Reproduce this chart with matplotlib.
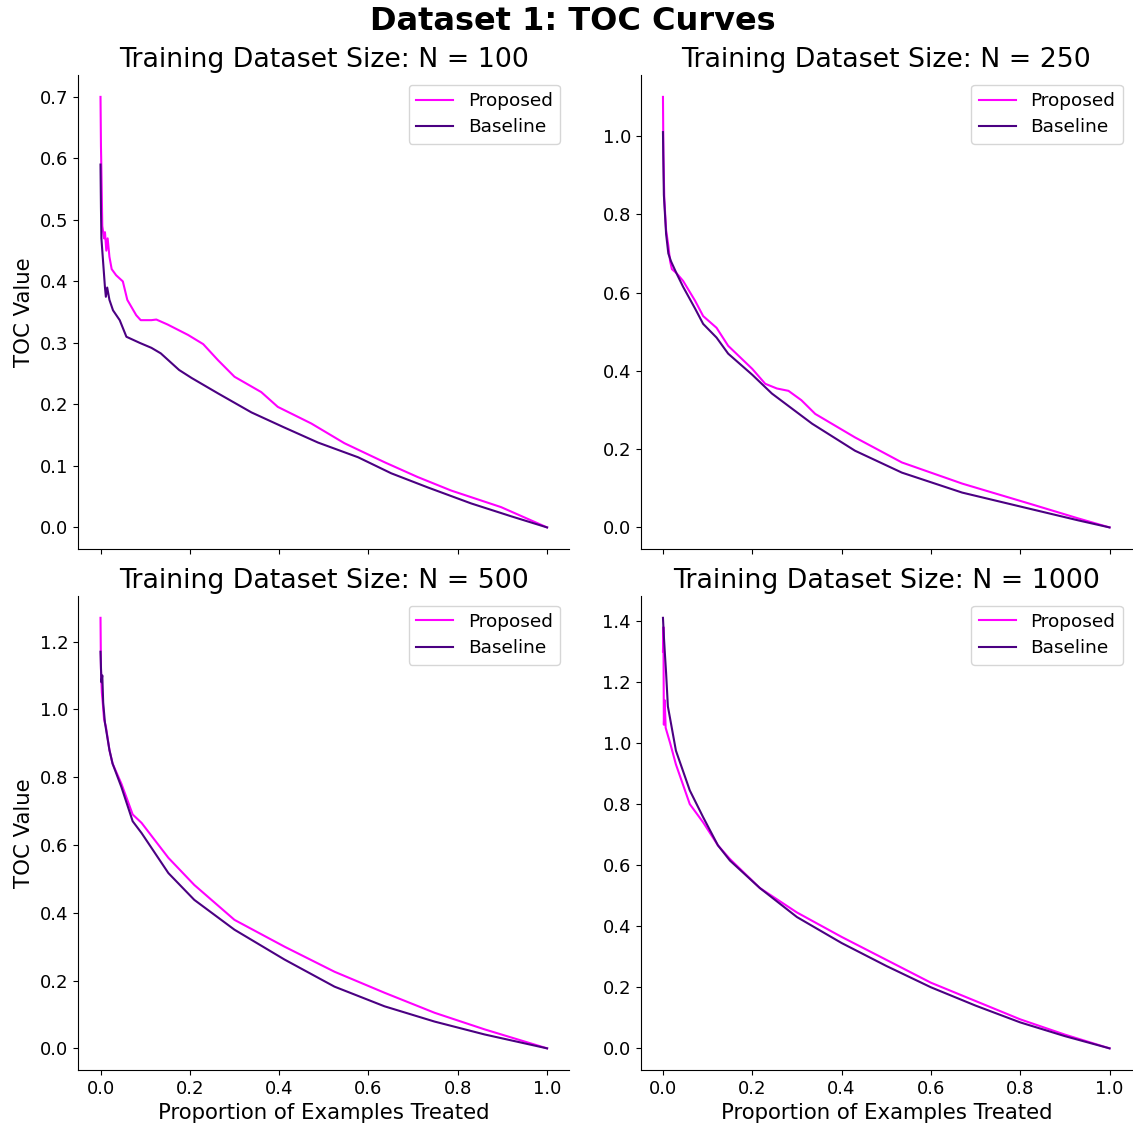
import matplotlib
matplotlib.use("Agg")
import matplotlib.pyplot as plt

# Values (x = proportion treated)
x_p100 = [0, 0.001, 0.002, 0.004, 0.008, 0.01, 0.013, 0.016, 0.02, 0.025, 0.035, 0.05, 0.06,
          0.08, 0.09, 0.114, 0.125, 0.15, 0.196, 0.23, 0.263, 0.30, 0.36, 0.397, 0.472, 0.546,
          0.636, 0.71, 0.785, 0.897, 1.0]
y_p100 = [0.70, 0.62, 0.58, 0.49, 0.47, 0.48, 0.45, 0.47, 0.44, 0.42, 0.41, 0.40, 0.37,
          0.345, 0.337, 0.337, 0.338, 0.33, 0.313, 0.298, 0.272, 0.245, 0.22, 0.196, 0.169, 0.137,
          0.106, 0.082, 0.060, 0.033, 0.0]
x_b100 = [0, 0.001, 0.002, 0.004, 0.006, 0.01, 0.012, 0.015, 0.02, 0.028, 0.043, 0.058, 0.088,
          0.114, 0.135, 0.176, 0.204, 0.263, 0.338, 0.41, 0.487, 0.577, 0.651, 0.733, 0.83, 0.92, 1.0]
y_b100 = [0.59, 0.52, 0.47, 0.45, 0.43, 0.39, 0.375, 0.39, 0.37, 0.353, 0.337, 0.31, 0.30,
          0.292, 0.283, 0.256, 0.243, 0.218, 0.187, 0.163, 0.138, 0.114, 0.088, 0.065, 0.039, 0.018, 0.0]

x_p250 = [0, 0.001, 0.003, 0.007, 0.012, 0.016, 0.02, 0.03, 0.045, 0.072, 0.09, 0.12, 0.146,
          0.2, 0.229, 0.255, 0.281, 0.31, 0.341, 0.43, 0.535, 0.67, 0.82, 0.93, 1.0]
y_p250 = [1.10, 0.95, 0.84, 0.76, 0.72, 0.68, 0.66, 0.65, 0.63, 0.579, 0.54, 0.51, 0.464,
          0.405, 0.367, 0.355, 0.349, 0.325, 0.29, 0.23, 0.166, 0.112, 0.061, 0.023, 0.0]
x_b250 = [0, 0.002, 0.007, 0.012, 0.018, 0.03, 0.045, 0.072, 0.09, 0.12, 0.146, 0.2, 0.244,
          0.334, 0.43, 0.535, 0.67, 0.82, 0.93, 1.0]
y_b250 = [1.01, 0.85, 0.75, 0.70, 0.68, 0.65, 0.615, 0.559, 0.52, 0.485, 0.444, 0.39, 0.342,
          0.265, 0.196, 0.14, 0.089, 0.048, 0.018, 0.0]

x_p500 = [0, 0.001, 0.003, 0.005, 0.008, 0.012, 0.02, 0.027, 0.047, 0.072, 0.092, 0.152, 0.21,
          0.30, 0.412, 0.524, 0.636, 0.748, 0.86, 1.0]
y_p500 = [1.27, 1.12, 1.05, 1.02, 0.97, 0.95, 0.88, 0.84, 0.78, 0.69, 0.665, 0.562, 0.482,
          0.379, 0.30, 0.226, 0.164, 0.105, 0.056, 0.0]
x_b500 = [0, 0.002, 0.004, 0.006, 0.01, 0.02, 0.027, 0.047, 0.072, 0.092, 0.152, 0.21,
          0.30, 0.412, 0.524, 0.636, 0.748, 0.86, 1.0]
y_b500 = [1.17, 1.08, 1.10, 1.02, 0.96, 0.88, 0.84, 0.77, 0.67, 0.635, 0.517, 0.438,
          0.35, 0.262, 0.182, 0.124, 0.079, 0.041, 0.0]

x_p1000 = [0, 0.001, 0.002, 0.004, 0.006, 0.01, 0.016, 0.029, 0.06, 0.09, 0.123, 0.15, 0.217,
           0.3, 0.4, 0.5, 0.6, 0.7, 0.8, 0.9, 1.0]
y_p1000 = [1.30, 1.38, 1.06, 1.14, 1.05, 1.03, 1.0, 0.93, 0.80, 0.74, 0.665, 0.62, 0.525,
           0.445, 0.365, 0.29, 0.215, 0.155, 0.095, 0.045, 0.0]
x_b1000 = [0, 0.002, 0.004, 0.007, 0.011, 0.016, 0.029, 0.06, 0.09, 0.123, 0.15, 0.217,
           0.3, 0.4, 0.5, 0.6, 0.7, 0.8, 0.9, 1.0]
y_b1000 = [1.41, 1.35, 1.30, 1.23, 1.12, 1.08, 0.975, 0.845, 0.757, 0.665, 0.615, 0.525,
           0.43, 0.345, 0.27, 0.2, 0.14, 0.085, 0.04, 0.0]

sizes = [100, 250, 500, 1000]
proposed = [(x_p100, y_p100), (x_p250, y_p250), (x_p500, y_p500), (x_p1000, y_p1000)]
baseline = [(x_b100, y_b100), (x_b250, y_b250), (x_b500, y_b500), (x_b1000, y_b1000)]

fig, axes = plt.subplots(2, 2, figsize=(11.33, 11.25), dpi=100, sharex=True)
fig.subplots_adjust(left=0.069, right=0.999, top=0.933, bottom=0.049, wspace=0.145, hspace=0.1)

for ax, n, (xp, yp), (xb, yb) in zip(axes.flat, sizes, proposed, baseline):
    ax.plot(xp, yp, color='#ff00ff', lw=1.5, label='Proposed')
    ax.plot(xb, yb, color='#4b0082', lw=1.5, label='Baseline')
    ax.set_title(f'Training Dataset Size: N = {n}', fontsize=19.3)
    ax.spines['top'].set_visible(False)
    ax.spines['right'].set_visible(False)
    ax.tick_params(labelsize=13)
    ax.legend(fontsize=13.3, loc='upper right', labelspacing=0.45)

for ax in axes[:, 0]:
    ax.set_ylabel('TOC Value', fontsize=15.3)
for ax in axes[1, :]:
    ax.set_xlabel('Proportion of Examples Treated', fontsize=15.3)

fig.suptitle('Dataset 1: TOC Curves', fontsize=23, fontweight='bold', x=0.506, y=0.995)
fig.savefig('out.png', dpi=100)
